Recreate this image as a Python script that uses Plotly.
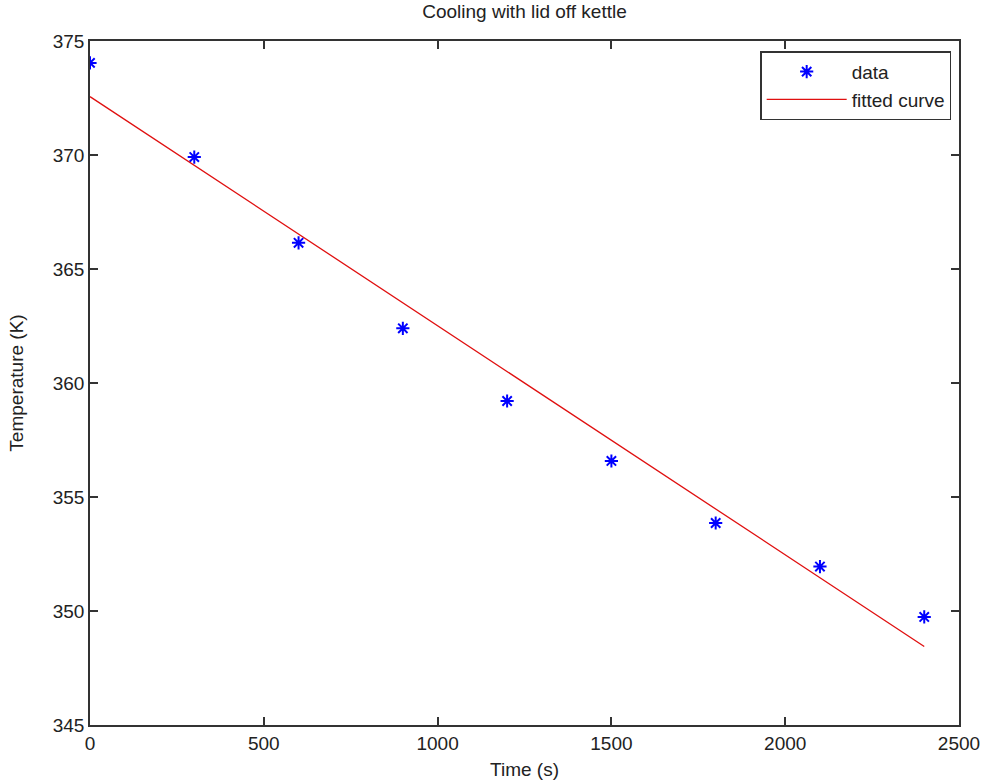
import plotly.graph_objects as go

time_s = [0, 300, 600, 900, 1200, 1500, 1800, 2100, 2400]
temp_k = [374.04, 369.91, 366.15, 362.40, 359.21, 356.58, 353.86, 351.95, 349.74]
fit_k = [372.56, 369.55, 366.53, 363.52, 360.50, 357.49, 354.47, 351.46, 348.44]

x_ticks = [0, 500, 1000, 1500, 2000, 2500]
y_ticks = [345, 350, 355, 360, 365, 370, 375]

font = dict(family="Liberation Sans, Arial, sans-serif", size=19, color="#222")

fig = go.Figure()
fig.add_trace(go.Scatter(
    x=time_s, y=temp_k, mode="markers", name="data",
    marker=dict(symbol="asterisk-open", size=11, color="blue",
                line=dict(color="blue", width=2)),
))
fig.add_trace(go.Scatter(
    x=time_s, y=fit_k, mode="lines", name="fitted curve",
    line=dict(color="#e01010", width=1.3),
))

axis_common = dict(
    showline=True, linecolor="#333", linewidth=1.5, mirror="ticks",
    ticks="inside", ticklen=8, tickwidth=1.5, tickcolor="#333",
    showgrid=False, zeroline=False, tickfont=font, automargin=False,
)

fig.update_layout(
    width=984, height=784,
    margin=dict(l=90, r=25, t=41, b=59),
    paper_bgcolor="white", plot_bgcolor="white",
    font=font,
    title=dict(text="Cooling with lid off kettle", x=0.5, xref="paper",
               y=0.994, yanchor="top", font=dict(size=19)),
    xaxis=dict(range=[0, 2500], tickvals=x_ticks,
               title=dict(text="Time (s)", standoff=10, font=dict(size=19)),
               **axis_common),
    yaxis=dict(range=[345, 375], tickvals=y_ticks,
               title=dict(text="Temperature (K)", standoff=24, font=dict(size=19)),
               **axis_common),
    legend=dict(x=0.991, y=0.985, xanchor="right", yanchor="top",
                bordercolor="#333", borderwidth=1.5, bgcolor="white",
                font=dict(size=19), tracegroupgap=0, itemwidth=80),
    showlegend=True,
)

fig.write_html("out.html")
